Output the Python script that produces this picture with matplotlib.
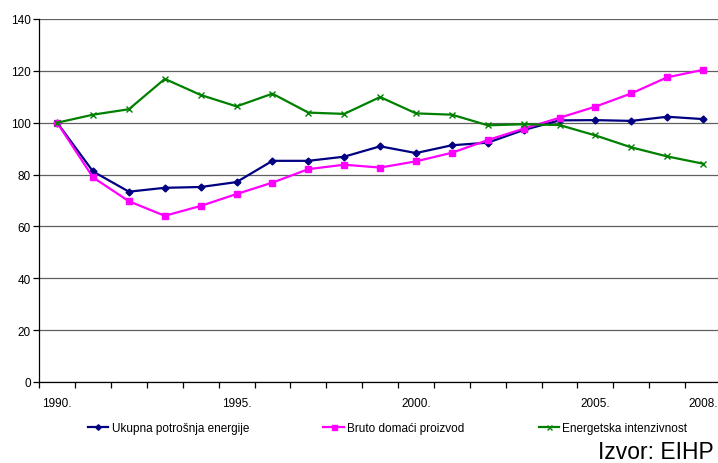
import numpy as np
import matplotlib
matplotlib.use('Agg')
import matplotlib.pyplot as plt

plt.rcParams['font.family'] = ['Liberation Sans', 'DejaVu Sans']

# indeksi, 1990. = 100
godine = list(range(1990, 2009))
potrosnja = [100, 81.2, 73.4, 74.9, 75.2, 77.1, 85.3, 85.3, 86.9, 90.9,
             88.3, 91.3, 92.3, 97.2, 100.9, 101.0, 100.7, 102.3, 101.4]
bdp = [100, 78.9, 69.7, 64.1, 67.9, 72.5, 76.9, 82.1, 83.8, 82.7,
       85.1, 88.4, 93.3, 97.7, 101.9, 106.2, 111.3, 117.5, 120.4]
intenzivnost = [100, 103.1, 105.2, 116.9, 110.7, 106.3, 111.2, 103.9, 103.4, 109.9,
                103.6, 103.1, 99.0, 99.4, 99.1, 95.1, 90.5, 87.0, 84.2]
oznake_godina = ['1990.', '1995.', '2000.', '2005.', '2008.']
oznake_idx = [0, 5, 10, 15, 18]

fig = plt.figure(figsize=(7.18, 4.64), dpi=100)
ax = fig.add_axes([39.2/718, 81/464, 681.8/718, 363/464])

x = np.arange(len(godine))
ax.plot(x, potrosnja, color='#000080', lw=1.6, marker='D', ms=3.5,
        label='Ukupna potrošnja energije')
ax.plot(x, bdp, color='#FF00FF', lw=1.6, marker='s', ms=4.5,
        label='Bruto domaći proizvod')
ax.plot(x, intenzivnost, color='#008000', lw=1.6, marker='x', ms=4.5, mew=1,
        label='Energetska intenzivnost')

ax.set_xlim(-0.5, len(godine) - 0.5)
ax.set_ylim(0, 140)
ax.set_yticks(range(0, 141, 20))
ax.yaxis.grid(True, color='#606060', lw=0.9)
ax.set_axisbelow(True)

# kvačice između kategorija, oznake ispod odabranih godina
ax.set_xticks(np.arange(-0.5, len(godine), 1.0), minor=True)
ax.set_xticks(oznake_idx)
ax.set_xticklabels(oznake_godina)
ax.tick_params(axis='x', which='major', length=0, pad=11, labelsize=8.5)
ax.tick_params(axis='x', which='minor', length=4, width=0.9, direction='out')
ax.tick_params(axis='y', length=4, width=0.9, labelsize=8.5, pad=2)

for s in ['top', 'right']:
    ax.spines[s].set_visible(False)
for s in ['left', 'bottom']:
    ax.spines[s].set_linewidth(0.9)

fig.legend(loc='center', bbox_to_anchor=(0.54, 35/464), ncol=3, frameon=False,
           fontsize=8.5, handlelength=1.7, handletextpad=0.3, columnspacing=6.3,
           markerscale=0.8)

fig.text(714/718, 5/464, 'Izvor: EIHP', ha='right', va='baseline', fontsize=16.5)

fig.savefig('out.png', dpi=100)
